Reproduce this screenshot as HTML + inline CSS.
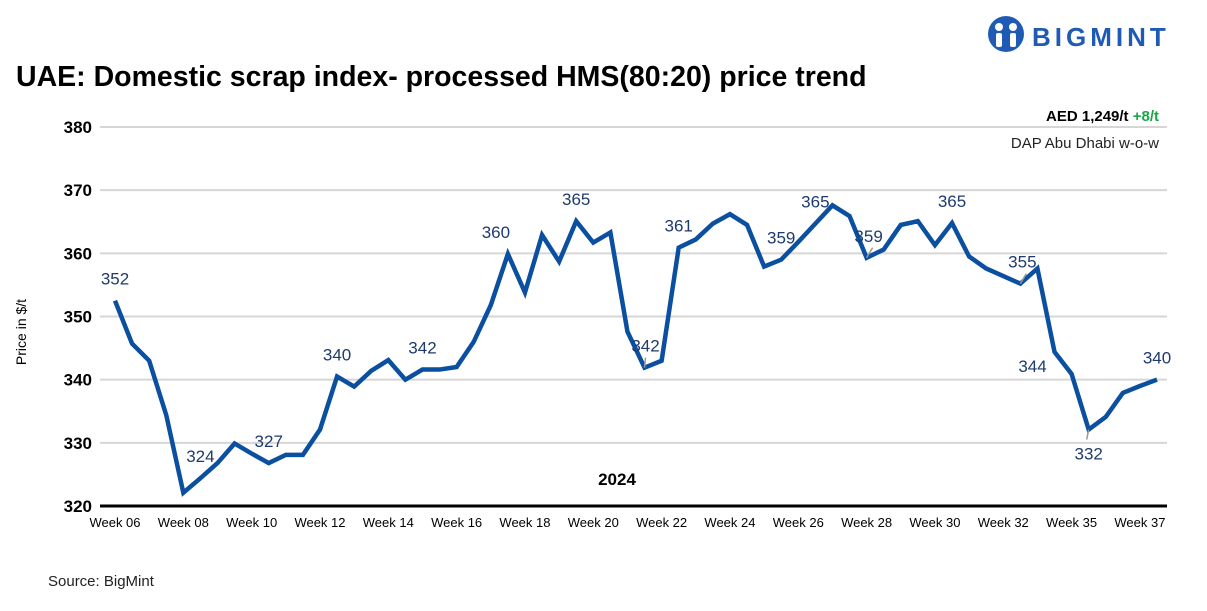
<!DOCTYPE html>
<html><head><meta charset="utf-8"><style>
body{margin:0;background:#fff;width:1207px;height:606px;overflow:hidden;font-family:"Liberation Sans",sans-serif}
</style></head><body>
<svg id="chart" width="1207" height="606" xmlns="http://www.w3.org/2000/svg" font-family="Liberation Sans, sans-serif">
<g>
<circle cx="1006" cy="34" r="18" fill="#1f5bb5"/>
<circle cx="999" cy="27" r="4" fill="#fff"/><circle cx="1013" cy="27" r="4" fill="#fff"/>
<rect x="996" y="33" width="6" height="14" rx="2" fill="#fff"/><rect x="1010" y="33" width="6" height="14" rx="2" fill="#fff"/>
<text x="1032" y="46" font-size="26" font-weight="bold" fill="#1f5bb5" letter-spacing="4">BIGMINT</text>
</g>
<text x="16" y="86" font-size="28.5" font-weight="bold" fill="#000">UAE: Domestic scrap index- processed HMS(80:20) price trend</text>
<text x="1159" y="121" font-size="15" text-anchor="end" font-weight="bold" fill="#000">AED 1,249/t  <tspan fill="#1aa548">+8/t</tspan></text>
<text x="1159" y="148" font-size="15" text-anchor="end" fill="#222">DAP Abu Dhabi w-o-w</text>
<text transform="translate(26,332) rotate(-90)" font-size="14" text-anchor="middle" fill="#000">Price in $/t</text>
<text x="617" y="485" font-size="17" font-weight="bold" text-anchor="middle" fill="#000">2024</text>
<text x="48" y="586" font-size="15" fill="#222">Source: BigMint</text>
<g id="grid"></g><g id="ylabels"></g><g id="xlabels"></g><g id="series"></g><g id="dlabels"></g>
</svg>
<script>
const yTicks=[320,330,340,350,360,370,380];
const xTickLabels=["Week 06","Week 08","Week 10","Week 12","Week 14","Week 16","Week 18","Week 20","Week 22","Week 24","Week 26","Week 28","Week 30","Week 32","Week 35","Week 37"];
const prices=[352.5,345.7,343,334.4,322.1,324.4,326.8,329.9,328.3,326.8,328.1,328.1,332.1,340.5,338.9,341.4,343.1,340,341.6,341.6,342,346,351.8,359.9,353.8,362.9,358.7,365.1,361.7,363.3,347.6,341.9,343,360.9,362.2,364.7,366.2,364.5,357.9,359,361.8,364.7,367.6,365.9,359.3,360.6,364.5,365.1,361.3,364.8,359.5,357.6,356.4,355.2,357.6,344.4,340.9,332.1,334.1,337.9,339,340];
const labelIdx=[0,5,9,13,18,23,27,31,33,39,41,44,49,53,55,57,61];
const labelText=["352","324","327","340","342","360","365","342","361","359","365","359","365","355","344","332","340"];
const labelPos=["above","above","above","above","above","above","above","leader","above","above","above","leader","above","leader","left","below","above"];
const NS="http://www.w3.org/2000/svg";
const x0=115,x1=1157,yTop=127,yBot=506,vMin=320,vMax=380;
const X=i=>x0+i*(x1-x0)/(prices.length-1);
const Y=v=>yBot-(v-vMin)/(vMax-vMin)*(yBot-yTop);
function mk(tag,attrs,parent){const e=document.createElementNS(NS,tag);for(const k in attrs)e.setAttribute(k,attrs[k]);document.getElementById(parent).appendChild(e);return e;}
yTicks.forEach(v=>{
 const l=mk('line',{x1:100,x2:1167,y1:Y(v),y2:Y(v),stroke:v===vMin?'#000':'#d6d6d6','stroke-width':v===vMin?3:2},'grid');
 
 
 const t=mk('text',{x:92,y:Y(v)+6,'font-size':17,'font-weight':'bold','text-anchor':'end',fill:'#000'},'ylabels');
 t.textContent=v;
 
 
});
xTickLabels.forEach((s,k)=>{
 const t=mk('text',{x:X(k*4),y:527,'font-size':13,'text-anchor':'middle',fill:'#000'},'xlabels');
 t.textContent=s;
 
 
});
const p=mk('polyline',{points:prices.map((v,i)=>X(i)+','+Y(v)).join(' '),fill:'none',stroke:'#0b4fa0','stroke-width':4.5,'stroke-linejoin':'miter'},'series');


labelIdx.forEach((i,k)=>{
 let px=X(i),py=Y(prices[i]),tx=px,ty=py-16;
 const pos=labelPos[k];
 if(k===5){tx=px-12;}
 if(pos==='below'){ty=py+30;}
 if(pos==='left'){tx=px-22;ty=py+20;}
 if(pos==='leader'){ty=py-16;
  const ln=mk('line',{x1:px,y1:py,x2:px+(k===7?1:6),y2:py-10,stroke:'#999','stroke-width':1.5},'dlabels');
  
  
  tx=px+(k===7?1:2);}
 if(pos==='below'){const ln=mk('line',{x1:px,y1:py,x2:px-2,y2:py+10,stroke:'#999','stroke-width':1.5},'dlabels');
  
  }
 const t=mk('text',{x:tx,y:ty,'font-size':17,'text-anchor':'middle',fill:'#1f3a6e'},'dlabels');
 t.textContent=labelText[k];
 
 
});
</script>
</body></html>
